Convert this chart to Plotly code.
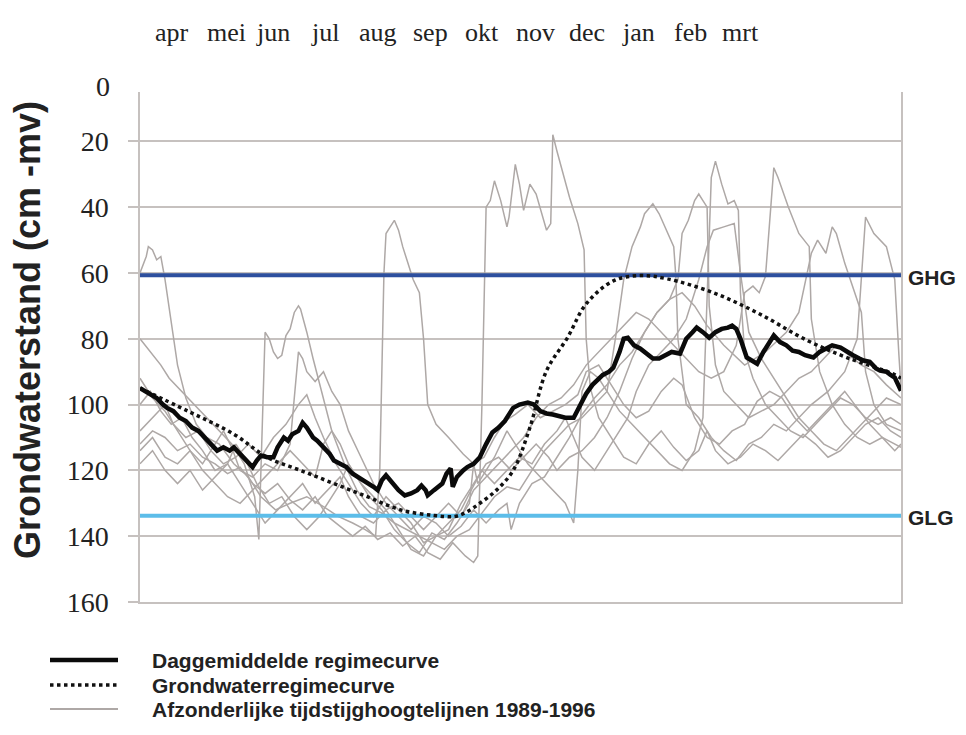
import plotly.graph_objects as go

# x = dag in het hydrologisch jaar (0 = 1 april), y = grondwaterstand in cm -mv
MONTHS = ["apr", "mei", "jun", "jul", "aug", "sep", "okt", "nov", "dec", "jan", "feb", "mrt"]
Y_TICKS = [20, 40, 60, 80, 100, 120, 140, 160]

GHG = 60.7
GLG = 133.8

DAGGEMIDDELDE = [
    (0, 95), (3, 96), (5, 97), (8, 98), (11, 100), (13, 101), (16, 102), (19, 104), (22, 105),
    (25, 107), (28, 108), (31, 110), (34, 112), (37, 114), (40, 113), (43, 114), (45, 113),
    (48, 115), (51, 117), (54, 119), (56, 117), (58, 115.5), (61, 116), (64, 116), (66, 113),
    (69, 110), (71, 111), (73, 109), (76, 108), (78, 105.5), (80, 107), (83, 110), (85, 111),
    (88, 113), (91, 115), (93, 117), (96, 118), (99, 119), (102, 121), (106, 122.5), (109, 124),
    (112, 125), (114, 126), (116, 123), (118, 121.5), (121, 124), (124, 126), (127, 127.6),
    (130, 127), (133, 126), (135, 124.6), (137, 126), (138, 127.6), (141, 126), (143, 125),
    (145, 124), (147, 121), (149, 119.4), (150, 125), (152, 122), (155, 120), (157, 119),
    (160, 118), (163, 116), (166, 112), (169, 108.5), (172, 107), (175, 105), (179, 101),
    (182, 100), (186, 99.4), (189, 100), (192, 102), (195, 102.7), (198, 103), (201, 103.5),
    (204, 104), (208, 104), (211, 100), (214, 96.7), (217, 94), (220, 92), (222, 91), (225, 90),
    (227, 88.8), (230, 84), (232, 80), (234, 79.7), (237, 82), (240, 83), (243, 84.5), (246, 86),
    (249, 86), (252, 85), (255, 84), (259, 84.5), (262, 80), (265, 78), (267, 76.6), (270, 78),
    (273, 79.7), (276, 78), (279, 77), (282, 76.6), (284, 76), (286, 77), (288, 80), (291, 85.7),
    (294, 87), (296, 87.6), (299, 84), (302, 81), (304, 79), (307, 81), (310, 82), (313, 83.6),
    (316, 84), (319, 85), (323, 85.7), (326, 84), (329, 83), (332, 82), (336, 82.7), (339, 84),
    (342, 85), (345, 86), (347, 86.6), (350, 87), (353, 89), (355, 89.7), (358, 90), (360, 91),
    (362, 91.8), (365, 95.8),
]

REGIMECURVE = [
    (0, 95), (23, 102), (45, 109), (61, 116), (77, 120), (93, 124), (109, 128), (125, 132),
    (141, 133.7), (151, 134), (157, 132.5), (163, 130), (171, 126), (179, 120), (187, 107),
    (195, 89.7), (205, 79.7), (214, 69.4), (227, 62.4), (240, 60.8), (253, 61.8), (275, 66),
    (297, 72.4), (320, 80.5), (339, 85.7), (361, 90.6), (365, 92),
]

JAAR_1 = [
    (0, 60), (3, 55), (4, 52), (6, 53), (8, 56), (10, 55), (12, 62), (15, 75), (18, 88), (22, 98),
    (27, 106), (32, 110), (38, 112), (45, 118), (52, 122), (58, 128), (65, 132), (72, 130),
    (80, 128), (88, 131), (95, 134), (102, 136), (108, 138), (113, 140), (115, 120), (117, 60),
    (118, 48), (120, 46), (122, 44), (124, 47), (126, 52), (128, 56), (131, 62), (134, 66),
    (136, 80), (138, 100), (142, 106), (148, 110), (155, 115), (160, 118), (165, 116), (170, 110),
    (175, 105), (180, 103), (186, 100), (192, 104), (198, 102), (204, 100), (210, 97), (214, 90),
    (220, 88), (226, 94), (232, 100), (238, 104), (244, 102), (250, 96), (256, 92), (260, 94),
    (266, 104), (272, 110), (278, 112), (284, 108), (290, 106), (296, 99), (302, 96), (308, 98),
    (314, 104), (320, 108), (326, 104), (332, 100), (338, 96), (344, 101), (350, 106), (356, 110),
    (362, 112), (365, 113),
]
JAAR_2 = [
    (0, 112), (6, 108), (12, 110), (18, 114), (24, 112), (30, 116), (36, 118), (42, 121), (48, 119),
    (54, 124), (60, 127), (66, 124), (72, 129), (78, 132), (84, 128), (90, 134), (96, 137),
    (102, 140), (108, 137), (114, 141), (120, 139), (126, 143), (132, 140), (138, 145), (144, 147),
    (150, 142), (156, 146), (160, 148), (162, 146), (164, 100), (166, 40), (168, 38), (170, 32),
    (173, 38), (176, 46), (177, 43), (180, 27), (182, 33), (184, 41), (187, 33), (190, 36),
    (195, 47), (197, 45), (198, 18), (200, 23), (203, 30), (206, 37), (210, 45), (213, 53),
    (214, 80), (216, 95), (220, 104), (226, 110), (232, 116), (238, 118), (244, 112), (250, 108),
    (256, 113), (262, 117), (268, 114), (272, 108), (276, 114), (282, 118), (288, 116), (294, 112),
    (300, 114), (306, 117), (312, 113), (318, 109), (324, 112), (330, 116), (336, 114), (342, 110),
    (348, 106), (354, 104), (360, 108), (365, 110),
]
JAAR_3 = [
    (0, 80), (5, 84), (10, 88), (14, 92), (20, 96), (26, 100), (32, 104), (38, 108), (44, 112),
    (50, 118), (55, 128), (57, 141), (58, 120), (60, 78), (62, 80), (64, 84), (66, 86), (68, 85),
    (70, 79), (72, 77), (74, 72), (76, 70), (77, 71), (80, 78), (83, 86), (87, 96), (92, 108),
    (98, 118), (104, 126), (110, 131), (116, 133), (122, 136), (128, 138), (134, 140), (140, 142),
    (146, 144), (152, 140), (158, 138), (164, 133), (170, 128), (176, 125), (182, 126), (188, 120),
    (194, 114), (200, 110), (206, 106), (212, 104), (218, 100), (224, 96), (228, 80), (232, 62),
    (236, 52), (240, 46), (242, 42), (246, 39), (249, 42), (253, 48), (256, 52), (257, 61),
    (258, 80), (262, 100), (268, 104), (274, 110), (280, 114), (286, 117), (292, 112), (298, 110),
    (304, 106), (310, 108), (316, 104), (322, 100), (330, 96), (338, 90), (344, 80), (346, 60),
    (348, 43), (352, 48), (355, 50), (358, 52), (360, 57), (362, 62), (364, 85), (365, 95),
]
JAAR_4 = [
    (0, 92), (6, 98), (12, 102), (18, 108), (24, 114), (30, 118), (36, 112), (40, 108), (44, 113),
    (48, 120), (54, 122), (60, 118), (66, 120), (72, 112), (76, 84), (78, 86), (80, 90), (84, 93),
    (88, 90), (92, 96), (96, 100), (100, 108), (106, 116), (112, 124), (118, 130), (124, 134),
    (130, 138), (136, 134), (142, 136), (148, 140), (154, 137), (160, 132), (166, 136), (172, 132),
    (176, 130), (178, 138), (182, 130), (188, 124), (194, 122), (200, 116), (206, 110), (212, 103),
    (218, 98), (224, 94), (230, 88), (236, 84), (242, 78), (248, 72), (254, 68), (258, 62),
    (260, 48), (263, 44), (266, 38), (268, 36), (270, 38), (272, 40), (273, 70), (276, 88),
    (280, 96), (286, 100), (292, 104), (298, 102), (304, 100), (310, 96), (316, 92), (322, 90),
    (328, 86), (334, 82), (340, 85), (346, 88), (352, 90), (358, 94), (365, 98),
]
JAAR_5 = [
    (0, 100), (5, 96), (10, 102), (15, 106), (20, 104), (25, 110), (30, 114), (36, 120), (42, 118),
    (46, 112), (50, 116), (56, 124), (62, 130), (68, 128), (74, 134), (80, 138), (86, 134),
    (90, 130), (96, 124), (100, 118), (104, 122), (110, 128), (116, 132), (122, 138), (128, 142),
    (134, 145), (140, 139), (146, 141), (152, 136), (158, 130), (160, 118), (162, 124), (166, 120),
    (170, 116), (176, 108), (180, 112), (186, 118), (192, 122), (198, 126), (204, 130), (208, 136),
    (210, 120), (212, 96), (216, 90), (220, 92), (224, 96), (230, 102), (236, 106), (242, 110),
    (248, 114), (254, 118), (260, 120), (266, 114), (270, 104), (272, 70), (274, 31), (276, 26),
    (279, 33), (282, 39), (285, 38), (287, 41), (288, 66), (290, 84), (294, 92), (300, 100),
    (306, 104), (312, 108), (318, 110), (324, 106), (330, 102), (336, 98), (342, 100), (348, 104),
    (354, 106), (360, 104), (365, 106),
]
JAAR_6 = [
    (0, 108), (6, 104), (12, 100), (16, 106), (22, 110), (28, 108), (34, 114), (40, 118), (46, 116),
    (52, 112), (58, 116), (64, 110), (70, 106), (76, 100), (80, 97), (84, 104), (88, 110), (94, 118),
    (100, 124), (106, 130), (112, 134), (118, 128), (124, 132), (130, 136), (136, 142), (142, 140),
    (148, 136), (154, 132), (158, 127), (164, 120), (170, 124), (176, 120), (182, 116), (188, 118),
    (194, 112), (200, 108), (204, 104), (208, 110), (212, 116), (218, 120), (224, 114), (230, 108),
    (234, 104), (238, 96), (244, 88), (250, 84), (256, 80), (262, 74), (268, 62), (272, 52),
    (275, 47), (280, 46), (285, 45), (288, 60), (292, 78), (298, 86), (304, 92), (310, 98),
    (316, 104), (322, 108), (328, 112), (334, 114), (340, 110), (346, 106), (352, 102), (358, 98),
    (365, 100),
]
JAAR_7 = [
    (0, 114), (6, 110), (12, 116), (18, 118), (24, 114), (30, 120), (36, 124), (42, 128), (48, 130),
    (54, 126), (60, 122), (66, 118), (72, 114), (78, 118), (84, 122), (88, 112), (92, 108),
    (96, 112), (100, 118), (106, 124), (112, 128), (118, 132), (124, 130), (130, 134), (136, 138),
    (142, 134), (148, 130), (154, 134), (160, 126), (166, 122), (172, 118), (178, 114), (184, 110),
    (190, 104), (196, 100), (202, 98), (208, 94), (214, 88), (220, 84), (226, 80), (232, 76),
    (238, 72), (244, 74), (250, 78), (256, 82), (262, 86), (268, 90), (274, 92), (280, 90),
    (286, 82), (290, 66), (294, 64), (297, 66), (300, 61), (302, 45), (304, 28), (306, 31),
    (311, 40), (316, 48), (321, 52), (322, 74), (326, 90), (332, 100), (338, 106), (344, 110),
    (350, 112), (356, 110), (362, 114), (365, 112),
]
JAAR_8 = [
    (0, 118), (6, 114), (12, 120), (18, 124), (24, 120), (30, 126), (36, 122), (42, 118), (48, 124),
    (54, 130), (60, 136), (66, 132), (72, 128), (78, 124), (84, 130), (90, 126), (96, 122),
    (100, 128), (106, 134), (112, 136), (118, 132), (124, 138), (130, 144), (136, 146), (142, 140),
    (148, 138), (154, 130), (160, 124), (166, 118), (172, 116), (178, 120), (184, 116), (190, 112),
    (196, 116), (200, 120), (206, 116), (212, 114), (218, 110), (224, 104), (230, 96), (236, 86),
    (242, 78), (248, 72), (254, 68), (260, 66), (266, 70), (272, 76), (280, 82), (290, 88),
    (300, 84), (310, 78), (316, 72), (322, 54), (325, 50), (329, 54), (332, 46), (334, 48),
    (338, 57), (343, 66), (346, 72), (348, 90), (352, 100), (358, 106), (365, 108),
]
JAREN = [JAAR_1, JAAR_2, JAAR_3, JAAR_4, JAAR_5, JAAR_6, JAAR_7, JAAR_8]

GREY = "#aea8a6"
GRID = "#c6c1bf"
SERIF = "Liberation Serif"
SANS = "Liberation Sans"


def xy(pairs):
    d, v = zip(*pairs)
    return list(d), list(v)


fig = go.Figure()

for serie in JAREN:
    d, v = xy(serie)
    fig.add_trace(go.Scatter(x=d, y=v, mode="lines",
                             line=dict(color=GREY, width=1.5), showlegend=False))

fig.add_trace(go.Scatter(x=[0, 365], y=[GHG, GHG], mode="lines",
                         line=dict(color="#2d4f9e", width=4), showlegend=False))
fig.add_trace(go.Scatter(x=[0, 365], y=[GLG, GLG], mode="lines",
                         line=dict(color="#5cbde9", width=4), showlegend=False))

d, v = xy(REGIMECURVE)
fig.add_trace(go.Scatter(x=d, y=v, mode="lines", showlegend=False,
                         line=dict(color="#111", width=3.5, dash="dot", shape="spline")))

d, v = xy(DAGGEMIDDELDE)
fig.add_trace(go.Scatter(x=d, y=v, mode="lines", showlegend=False,
                         line=dict(color="#0a0a0a", width=4.5)))


# page furniture placed in screen pixels; plot area is 140..901 x, 92..602 y
# (the page body adds an 8 px margin, hence the smaller figure + margins)
def px(x):
    return (x - 140) / 761


def py(y):
    return (602 - y) / 510


def note(text, x, y, size, family=SERIF, **kw):
    kw.setdefault("xanchor", "center")
    return dict(text=text, x=px(x), y=py(y), xref="paper", yref="paper", showarrow=False,
                yanchor="middle", font=dict(family=family, size=size, color="#222"), **kw)


month_x = [172, 226, 273, 325, 378, 430, 482, 535, 587, 638, 690, 740]
annotations = [note(m, mx, 33, 26) for m, mx in zip(MONTHS, month_x)]
annotations += [
    note("0", 103, 86, 28),
    note("<b>Grondwaterstand (cm -mv)</b>", 27, 330, 36, SANS, textangle=-90),
    note("<b>GHG</b>", 906, 277, 21, SANS, xanchor="left"),
    note("<b>GLG</b>", 906, 517, 21, SANS, xanchor="left"),
]

legend_items = [
    ("Daggemiddelde regimecurve", dict(color="#0a0a0a", width=4.5), 660),
    ("Grondwaterregimecurve", dict(color="#111", width=3.5, dash="dot"), 685),
    ("Afzonderlijke tijdstijghoogtelijnen 1989-1996", dict(color=GREY, width=2), 709),
]
shapes = []
for label, line, ly in legend_items:
    shapes.append(dict(type="line", xref="paper", yref="paper", x0=px(50), x1=px(118),
                       y0=py(ly), y1=py(ly), line=line))
    annotations.append(note(f"<b>{label}</b>", 150, ly, 21, SANS, xanchor="left"))

fig.update_layout(
    width=950, height=719,
    margin=dict(l=132, r=57, t=84, b=125),
    paper_bgcolor="white", plot_bgcolor="white",
    showlegend=False,
    annotations=annotations, shapes=shapes,
    xaxis=dict(range=[0, 365], showgrid=False, zeroline=False, showticklabels=False,
               showline=True, linecolor=GRID, linewidth=1.5, ticks=""),
    yaxis=dict(range=[160, 5], tickvals=Y_TICKS, showgrid=True, gridcolor=GRID, gridwidth=1.5,
               zeroline=False, showline=True, linecolor=GRID, linewidth=1.5, mirror=True,
               ticks="outside", ticklen=10, tickcolor=GRID, tickwidth=1.5,
               ticklabelstandoff=14,
               tickfont=dict(family=SERIF, size=28, color="#222")),
)

fig.write_html("out.html")
